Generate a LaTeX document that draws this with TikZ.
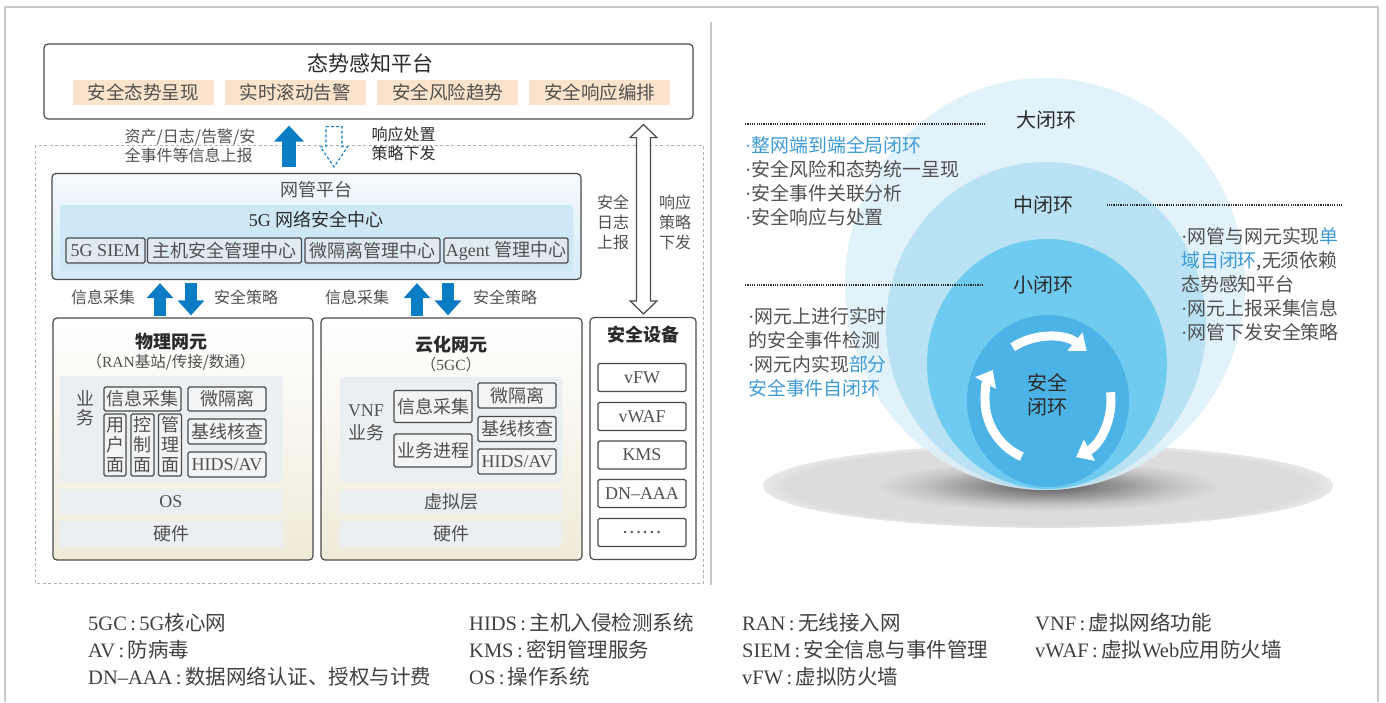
\documentclass[tikz,border=0pt]{standalone}
\usepackage{fontspec}
\setmainfont{Noto Sans CJK SC}
\newfontfamily\serf{Liberation Serif}
\usetikzlibrary{arrows.meta,positioning,calc}

\definecolor{txt}{HTML}{505050}
\definecolor{dark}{HTML}{2B2B2B}
\definecolor{linec}{HTML}{4A4A4A}
\definecolor{peach}{HTML}{FCE3CC}
\definecolor{nmstop}{HTML}{F5FAFD}
\definecolor{nmsbot}{HTML}{D6ECF8}
\definecolor{ctrfill}{HTML}{CFE8F6}
\definecolor{subfill}{HTML}{DFEAF1}
\definecolor{boxfill}{HTML}{F3F4F5}
\definecolor{panelc}{HTML}{ECEFF2}
\definecolor{elbot}{HTML}{EFEAD9}
\definecolor{arblue}{HTML}{0A7DC4}
\definecolor{hl}{HTML}{3D9AD6}
\definecolor{loopa}{HTML}{DDF0F9}
\definecolor{loopb}{HTML}{B5E2F4}
\definecolor{loopc}{HTML}{6FCCF0}
\definecolor{loopd}{HTML}{4CB3E6}
\definecolor{framec}{HTML}{C9C9C9}
\definecolor{dashc}{HTML}{B0B0B0}
\definecolor{shda}{HTML}{5A5A5A}
\definecolor{shdb}{HTML}{8A8A8A}
\definecolor{shdc}{HTML}{C4C4C4}
\definecolor{shdd}{HTML}{DCDCDC}
\definecolor{shde}{HTML}{E8E8E8}

\newcommand\tmr[1]{{\serf #1}}
\newcommand\bul{{\serf ·}}

\pgfdeclareradialshading{blobshade}{\pgfpoint{0bp}{0bp}}{%
  color(0bp)=(shda); color(5bp)=(shdb); color(11bp)=(shdc);
  color(15bp)=(shdd); color(23bp)=(shdd); color(25bp)=(shde); color(50bp)=(shde)}

\tikzset{
  wh/.style 2 args={minimum width=#1pt, minimum height=#2pt},
  box/.style={draw=linec, line width=1.2pt, rounded corners=4pt, inner sep=0pt},
  peachbox/.style={fill=peach, wh={141}{25}, inner sep=0pt,
    font=\fontsize{18.5}{22}\selectfont},
  sbox/.style={draw=linec, line width=1.1pt, rounded corners=1.5pt, fill=#1,
    inner sep=0pt, font=\fontsize{18}{20}\selectfont},
  sbox/.default=boxfill,
  panel/.style={fill=panelc, rounded corners=2pt, inner sep=0pt,
    font=\fontsize{18}{20}\selectfont},
  ttl/.style={text=dark, font=\fontsize{18}{22}\selectfont},
  bttl/.style={text=dark, font=\fontsize{18}{22}\selectfont\bfseries},
  lbl/.style={font=\fontsize{16}{19.5}\selectfont},
  blockar/.style={draw=arblue, line width=12pt, -{Triangle[width=26pt,length=15pt]}},
  blockbig/.style={draw=arblue, line width=14pt, -{Triangle[width=29pt,length=16pt]}},
  dashar/.style={draw=arblue, line width=1.1pt, dash pattern=on 3pt off 2pt},
  hollow/.style={draw=linec, line width=1.2pt, fill=white},
  leader/.style={draw=dark, line width=1.6pt, dash pattern=on 1.2pt off 1.1pt},
  looptxt/.style={text=dark, font=\fontsize{20}{24}\selectfont},
  bullets/.style={align=left, inner sep=0pt, anchor=north west,
    font=\fontsize{18.9}{24}\selectfont},
  whitearc/.style={draw=white, line width=9pt, -{Triangle[width=23pt,length=15pt]}},
  legend/.style={anchor=west, inner sep=0pt, text=dark!90,
    font=\fontsize{20.5}{24}\selectfont},
}

\begin{document}
\begin{tikzpicture}[x=1pt, y=-1pt, every node/.append style={text=txt}]
\useasboundingbox (0,0) rectangle (1386,702);

% page frame, separator, dashed network area
\draw[framec, line width=1.6pt] (5,702) -- (5,7) -- (1378,7) -- (1378,702);
\draw[framec, line width=1.4pt] (711,22) -- (711,585);
\draw[dashc, line width=0.8pt, dash pattern=on 3pt off 2.5pt] (35,145) rectangle (703,583);

% situational awareness platform
\node[box, fill=white, wh={649}{75}] (sa) at (368.5,81.5) {};
\node[ttl, font=\fontsize{21}{24}\selectfont] (satitle) at (370,63) {态势感知平台};
\foreach \t [count=\i] in {安全态势呈现,实时滚动告警,安全风险趋势,安全响应编排}
  \node[peachbox] (sa\i) at ({143+152.3*(\i-1)},92.5) {\t};

% network management platform
\node[box, top color=nmstop, bottom color=nmsbot, wh={529}{106}] (nms) at (316.5,226.5) {};
\node[ttl, text=txt] (nmstitle) at (316,190) {网管平台};
\node[fill=ctrfill, rounded corners=3pt, inner sep=0pt, wh={513}{66}] (ctr) at (316.5,238) {};
\node[ttl] (ctrtitle) at (316,220) {\tmr{5G} 网络安全中心};
\node[sbox=subfill, wh={79}{25}] (siem) at (105.5,250.5) {\tmr{5G SIEM}};
\node[sbox=subfill, wh={154}{25}] (host) at (224.5,250.5) {主机安全管理中心};
\node[sbox=subfill, wh={135}{25}] (micro) at (372.5,250.5) {微隔离管理中心};
\node[sbox=subfill, wh={124}{25}] (agent) at (506,250.5) {\tmr{Agent} 管理中心};

% physical network element
\node[box, top color=white, bottom color=elbot, wh={260}{242}] (phys) at (183,439) {};
\node[bttl] (phystitle) at (171,342) {物理网元};
\node[lbl, font=\fontsize{15.5}{19}\selectfont] (physsub) at (171,362) {（\tmr{RAN}基站/传接/数通）};
\node[panel, wh={223}{106}] (physsvc) at (171,429) {};
\node[align=center, font=\fontsize{18}{19}\selectfont] (physsvct) at (85,408) {业\\务};
\node[sbox, wh={77}{24}] (pcol) at (142.5,399) {信息采集};
\node[sbox, wh={78}{24}] (pmic) at (227,399) {微隔离};
\node[sbox, wh={22}{62}, align=center] (pusr) at (115,445) {用\\户\\面};
\node[sbox, wh={23}{62}, align=center] (pctl) at (142.5,445) {控\\制\\面};
\node[sbox, wh={23}{62}, align=center] (pmgt) at (170,445) {管\\理\\面};
\node[sbox, wh={78}{25}] (pbas) at (227,431.5) {基线核查};
\node[sbox, wh={78}{25}] (phids) at (227,464.5) {\tmr{HIDS/AV}};
\node[panel, wh={223}{25}] (pos) at (171,501.5) {\tmr{OS}};
\node[panel, wh={223}{26}] (phw) at (171,534) {硬件};

% cloud network element
\node[box, top color=white, bottom color=elbot, wh={261}{242}] (cloud) at (451.5,439) {};
\node[bttl] (cloudtitle) at (451,345) {云化网元};
\node[lbl, font=\fontsize{15.5}{19}\selectfont] (cloudsub) at (451,365) {（\tmr{5GC}）};
\node[panel, wh={222}{105}] (cldsvc) at (451,429.5) {};
\node[align=center, font=\fontsize{18}{23}\selectfont] (vnft) at (366,423) {\tmr{VNF}\\业务};
\node[sbox, wh={78}{32}] (ccol) at (433,406.5) {信息采集};
\node[sbox, wh={78}{33}] (cproc) at (433,450.5) {业务进程};
\node[sbox, wh={78}{25}] (cmic) at (517,395.5) {微隔离};
\node[sbox, wh={78}{25}] (cbas) at (517,429) {基线核查};
\node[sbox, wh={78}{25}] (chids) at (517,461.5) {\tmr{HIDS/AV}};
\node[panel, wh={222}{24}] (cvirt) at (451,501.5) {虚拟层};
\node[panel, wh={222}{26}] (chw) at (451,534) {硬件};

% security devices
\node[box, fill=white, wh={106}{242}] (dev) at (643,438.5) {};
\node[bttl] (devtitle) at (643,335) {安全设备};
\foreach \t/\y [count=\i] in {vFW/377.5, vWAF/416.5, KMS/455, DN–AAA/493.5}
  \node[sbox=white, wh={88}{28}] (dev\i) at (642,\y) {\tmr{\t}};
\node[sbox=white, wh={88}{28}] (dev5) at (642,532.5) {……};

% reporting / policy arrows
\coordinate (x0) at (289,0);
\coordinate (x1) at (334,0);
\coordinate (u1) at (160,0);
\coordinate (d1) at (191,0);
\coordinate (u2) at (417,0);
\coordinate (d2) at (448,0);
\coordinate (dbl) at (643.5,0);

\draw[blockbig, shorten <=6pt, shorten >=6pt] (nms.north -| x0) -- (sa.south -| x0);
\path (sa.south -| x1) ++(0,7) coordinate (dat);
\path (nms.north -| x1) ++(0,-6) coordinate (dab);
\draw[dashar] ($(dat)+(-8,0)$) -- ($(dat)+(8,0)$) -- ($(dab)+(8,-20)$) -- ($(dab)+(13.5,-20)$)
  -- (dab) -- ($(dab)+(-13.5,-20)$) -- ($(dab)+(-8,-20)$) -- cycle;

\draw[blockar, shorten <=1pt, shorten >=3pt] (phys.north -| u1) -- (nms.south -| u1);
\draw[blockar, shorten <=3pt, shorten >=2pt] (nms.south -| d1) -- (phys.north -| d1);
\draw[blockar, shorten <=1pt, shorten >=3pt] (cloud.north -| u2) -- (nms.south -| u2);
\draw[blockar, shorten <=3pt, shorten >=2pt] (nms.south -| d2) -- (cloud.north -| d2);

\path (sa.south -| dbl) ++(0,5) coordinate (dbt);
\path (dev.north -| dbl) ++(0,-3) coordinate (dbb);
\draw[hollow] (dbt) -- ($(dbt)+(13.5,13)$) -- ($(dbt)+(7,13)$) -- ($(dbb)+(7,-13)$)
  -- ($(dbb)+(13.5,-13)$) -- (dbb) -- ($(dbb)+(-13.5,-13)$) -- ($(dbb)+(-7,-13)$)
  -- ($(dbt)+(-7,13)$) -- ($(dbt)+(-13.5,13)$) -- cycle;

\node[lbl, align=left, anchor=east] (upinfo) at (259,146) {资产/日志/告警/安\\全事件等信息上报};
\node[lbl, text=dark, align=left, anchor=west] (resp) at (368,144) {响应处置\\策略下发};
\node[lbl, align=center, font=\fontsize{16}{20}\selectfont] (logup) at (613,222) {安全\\日志\\上报};
\node[lbl, align=center, font=\fontsize{16}{20}\selectfont] (poldn) at (675,222) {响应\\策略\\下发};
\node[lbl] (col1) at (103,297) {信息采集};
\node[lbl] (pol1) at (246,297) {安全策略};
\node[lbl] (col2) at (357,297) {信息采集};
\node[lbl] (pol2) at (505,297) {安全策略};

% closed loops
\shade[shading=blobshade] (1048,486) ellipse [x radius=285, y radius=42];
\fill[loopa, fill opacity=0.85] (1045,284) ellipse [x radius=200, y radius=206];
\fill[loopb, fill opacity=0.9] (1046,326) ellipse [x radius=160, y radius=164];
\fill[loopc] (1047,364) ellipse [x radius=120, y radius=125];
\fill[loopd] (1048,401) ellipse [x radius=81, y radius=86];

\coordinate (c) at (1047,400);
\draw[whitearc] ($(c)+(-123:63)$) arc[start angle=-123, end angle=-51, radius=63];
\draw[whitearc] ($(c)+(-7:64)$) arc[start angle=-7, end angle=63, radius=64];
\draw[whitearc] ($(c)+(114:62)$) arc[start angle=114, end angle=209, radius=62];

\node[looptxt] (bigl) at (1046,120) {大闭环};
\node[looptxt] (midl) at (1043,205) {中闭环};
\node[looptxt] (smll) at (1043,285) {小闭环};
\node[looptxt, align=center] (secl) at (1047,395) {安全\\闭环};

\coordinate (ld1) at (745,124);
\coordinate (ld2) at (1343,205);
\coordinate (ld3) at (745,285);
\draw[leader, shorten >=26pt] (ld1) -- (ld1 -| bigl.west);
\draw[leader, shorten <=30pt] (midl.east |- ld2) -- (ld2);
\draw[leader, shorten >=26pt] (ld3) -- (ld3 -| smll.west);

\node[bullets] (bigtxt) at (745,136) {\textcolor{hl}{\bul 整网端到端全局闭环}\\\bul 安全风险和态势统一呈现\\\bul 安全事件关联分析\\\bul 安全响应与处置};
\node[bullets] (midtxt) at (1181,227) {\bul 网管与网元实现\textcolor{hl}{单}\\\textcolor{hl}{域自闭环},无须依赖\\态势感知平台\\\bul 网元上报采集信息\\\bul 网管下发安全策略};
\node[bullets] (smltxt) at (748,307) {\bul 网元上进行实时\\的安全事件检测\\\bul 网元内实现\textcolor{hl}{部分}\\\textcolor{hl}{安全事件自闭环}};

% abbreviations
\node[legend] (lg1) at (88,623) {\tmr{5GC\,:\,5G}核心网};
\node[legend] (lg2) at (88,650) {\tmr{AV\,:\,}防病毒};
\node[legend] (lg3) at (88,677) {\tmr{DN–AAA\,:\,}数据网络认证、授权与计费};
\node[legend] (lg4) at (469,623) {\tmr{HIDS\,:\,}主机入侵检测系统};
\node[legend] (lg5) at (469,650) {\tmr{KMS\,:\,}密钥管理服务};
\node[legend] (lg6) at (469,677) {\tmr{OS\,:\,}操作系统};
\node[legend] (lg7) at (742,623) {\tmr{RAN\,:\,}无线接入网};
\node[legend] (lg8) at (742,650) {\tmr{SIEM\,:\,}安全信息与事件管理};
\node[legend] (lg9) at (742,677) {\tmr{vFW\,:\,}虚拟防火墙};
\node[legend] (lg10) at (1035,623) {\tmr{VNF\,:\,}虚拟网络功能};
\node[legend] (lg11) at (1035,650) {\tmr{vWAF\,:\,}虚拟\tmr{Web}应用防火墙};
\end{tikzpicture}
\end{document}
